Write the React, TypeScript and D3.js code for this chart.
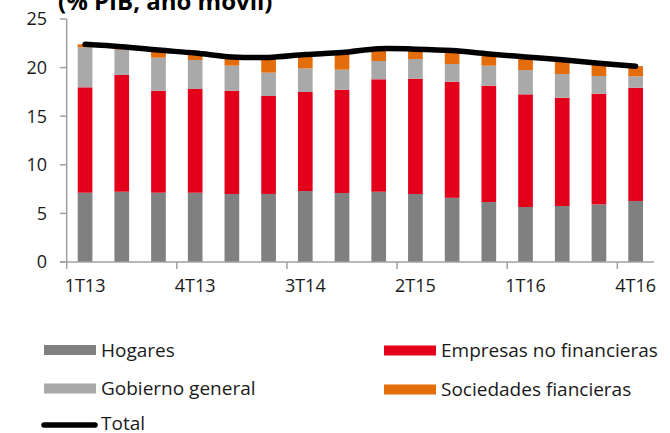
import React from 'react';
import * as d3 from 'd3';

const quarters = ['1T13', '2T13', '3T13', '4T13', '1T14', '2T14', '3T14', '4T14', '1T15', '2T15', '3T15', '4T15', '1T16', '2T16', '3T16', '4T16'];
const hogares = [7.13, 7.23, 7.13, 7.13, 7.0, 7.0, 7.3, 7.1, 7.23, 7.0, 6.6, 6.17, 5.66, 5.76, 5.93, 6.28];
const empresas = [10.84, 12.01, 10.49, 10.67, 10.62, 10.08, 10.19, 10.62, 11.57, 11.86, 11.95, 11.97, 11.59, 11.14, 11.39, 11.65];
const gobierno = [4.12, 2.61, 3.4, 2.98, 2.58, 2.4, 2.43, 2.07, 1.88, 2.02, 1.82, 2.06, 2.5, 2.44, 1.82, 1.17];
const sociedades = [0.31, 0.3, 0.7, 0.7, 0.9, 1.55, 1.43, 1.76, 1.27, 1.0, 1.38, 1.2, 1.35, 1.46, 1.31, 1.05];
const total = [22.4, 22.15, 21.8, 21.5, 21.1, 21.05, 21.35, 21.55, 21.95, 21.9, 21.75, 21.4, 21.1, 20.8, 20.45, 20.15];
const yTicks = [0, 5, 10, 15, 20, 25];
const xLabels = ['1T13', '4T13', '3T14', '2T15', '1T16', '4T16'];

const series = [
  { name: 'Hogares', values: hogares, color: '#808080' },
  { name: 'Empresas no financieras', values: empresas, color: '#e2001a' },
  { name: 'Gobierno general', values: gobierno, color: '#a9a9a9' },
  { name: 'Sociedades fiancieras', values: sociedades, color: '#e46c0a' },
];

const font = '"Open Sans", "DejaVu Sans", sans-serif';

export default function App() {
  const x = d3.scaleBand<string>().domain(quarters).range([66.7, 654]).paddingInner(0.6).paddingOuter(0.3);
  const y = d3.scaleLinear().domain([0, 25]).range([262, 19]);
  const step = x.step();
  const gap = (step - x.bandwidth()) / 2;

  const rows = quarters.map((q, i) => {
    const o: any = { q };
    series.forEach(s => (o[s.name] = s.values[i]));
    return o;
  });
  const stacked = d3.stack<any>().keys(series.map(s => s.name))(rows);

  const line = d3
    .line<number>()
    .x((_, i) => (x(quarters[i]) as number) + x.bandwidth() / 2)
    .y(d => y(d))
    .curve(d3.curveCatmullRom.alpha(0.5));

  // legend layout: two columns, swatches then labels
  const legendItems = [
    { label: 'Hogares', color: '#808080', lx: 44, ly: 350 },
    { label: 'Empresas no financieras', color: '#e2001a', lx: 384, ly: 350.5 },
    { label: 'Gobierno general', color: '#a9a9a9', lx: 44, ly: 388.5 },
    { label: 'Sociedades fiancieras', color: '#e46c0a', lx: 384, ly: 389.5 },
  ];

  return (
    <svg width={670} height={433} style={{ position: 'absolute', left: 0, top: 0, background: '#fff' }} fontFamily={font}>
      <text x={58} y={10} fontSize={24} fontWeight="bold" fill="#000">(% PIB, año móvil)</text>

      {/* y axis */}
      <line x1={66.7} x2={66.7} y1={y(25)} y2={y(0)} stroke="#a0a0a0" strokeWidth={1.5} />
      {yTicks.map(t => (
        <g key={t}>
          <line x1={60} x2={66.7} y1={y(t)} y2={y(t)} stroke="#a0a0a0" strokeWidth={1.5} />
          <text x={47} y={y(t)} dy="0.35em" textAnchor="end" fontSize={18} fill="#1a1a1a">{t}</text>
        </g>
      ))}

      {/* bars */}
      {stacked.map((layer, si) => (
        <g key={layer.key} fill={series[si].color}>
          {layer.map((d, i) => (
            <rect
              key={i}
              x={x(quarters[i])}
              y={y(d[1])}
              width={x.bandwidth()}
              height={y(d[0]) - y(d[1])}
            />
          ))}
        </g>
      ))}

      {/* x axis */}
      <line x1={60} x2={654} y1={y(0)} y2={y(0)} stroke="#a0a0a0" strokeWidth={1.5} />
      {quarters.map((q, i) =>
        i % 3 === 0 ? (
          <g key={q}>
            <line
              x1={(x(q) as number) - gap}
              x2={(x(q) as number) - gap}
              y1={y(0)}
              y2={y(0) + 7}
              stroke="#a0a0a0"
              strokeWidth={1.5}
            />
            <text x={(x(q) as number) + x.bandwidth() / 2} y={292} textAnchor="middle" fontSize={18} fill="#1a1a1a">
              {xLabels[i / 3]}
            </text>
          </g>
        ) : null
      )}

      <path d={line(total) || ''} fill="none" stroke="#000" strokeWidth={5.5} strokeLinecap="round" />

      {/* legend */}
      {legendItems.map(l => (
        <g key={l.label}>
          <rect x={l.lx} y={l.ly - 5} width={52} height={10} fill={l.color} />
          <text x={l.lx + 57} y={l.ly} dy="0.35em" fontSize={19} fill="#1a1a1a">{l.label}</text>
        </g>
      ))}
      <line x1={44} x2={95} y1={425} y2={425} stroke="#000" strokeWidth={5.5} strokeLinecap="round" />
      <text x={101} y={424} dy="0.33em" fontSize={19} fill="#1a1a1a">Total</text>
    </svg>
  );
}
